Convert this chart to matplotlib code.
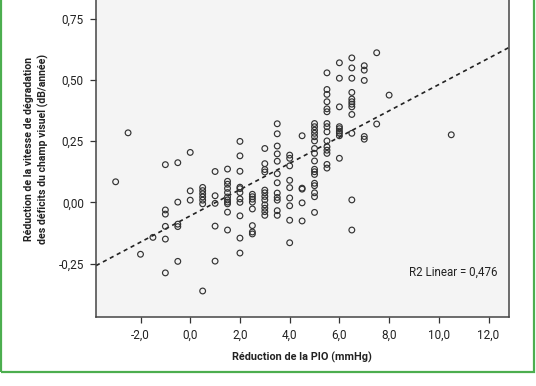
import matplotlib
matplotlib.use("Agg")
import matplotlib.pyplot as plt
from matplotlib.patches import Rectangle
from matplotlib.ticker import FuncFormatter
import numpy as np

plt.rcParams["font.family"] = ["Roboto", "DejaVu Sans"]

# IOP reduction levels (mmHg) and the rate reductions observed at each level (dB/year)
pio_levels = [-3.0, -2.5, -2.0, -1.5, -1.0, -0.5, 0.0, 0.5, 1.0, 1.5, 2.0, 2.5,
              3.0, 3.5, 4.0, 4.5, 5.0, 5.5, 6.0, 6.5, 7.0, 7.5, 8.0, 10.5]
rates_by_level = [
    [0.084],
    [0.284],
    [-0.212],
    [-0.143],
    [0.154, -0.031, -0.048, -0.098, -0.150, -0.288],
    [0.162, 0.001, -0.089, -0.099, -0.241],
    [0.204, 0.047, 0.009],
    [0.061, 0.048, 0.035, 0.022, 0.009, -0.006, -0.362],
    [0.126, 0.027, -0.004, -0.097, -0.240],
    [0.136, 0.086, 0.074, 0.057, 0.040, 0.022, 0.010, 0.001, -0.006, -0.040, -0.113],
    [0.249, 0.190, 0.127, 0.062, 0.056, 0.040, 0.014, 0.000, -0.055, -0.146, -0.207],
    [0.033, 0.023, 0.013, 0.001, -0.027, -0.095, -0.121, -0.129],
    [0.220, 0.158, 0.134, 0.124, 0.050, 0.039, 0.024, 0.010, -0.010, -0.024, -0.038, -0.053],
    [0.321, 0.280, 0.230, 0.198, 0.168, 0.117, 0.080, 0.038, 0.020, 0.009, -0.034, -0.053],
    [0.193, 0.180, 0.149, 0.090, 0.060, 0.018, -0.014, -0.073, -0.165],
    [0.272, 0.058, 0.054, -0.002, -0.076],
    [0.322, 0.309, 0.295, 0.282, 0.268, 0.251, 0.220, 0.200, 0.169, 0.135, 0.125, 0.114,
     0.078, 0.068, 0.039, 0.023, -0.041],
    [0.529, 0.461, 0.441, 0.411, 0.382, 0.370, 0.322, 0.309, 0.288, 0.251, 0.227, 0.213,
     0.200, 0.155, 0.140],
    [0.570, 0.507, 0.390, 0.309, 0.301, 0.291, 0.283, 0.272, 0.180],
    [0.590, 0.549, 0.507, 0.449, 0.422, 0.411, 0.401, 0.390, 0.359, 0.282, 0.010, -0.113],
    [0.558, 0.540, 0.498, 0.269, 0.258],
    [0.611, 0.320],
    [0.438],
    [0.276],
]

x_ticks = [-2.0, 0.0, 2.0, 4.0, 6.0, 8.0, 10.0, 12.0]
y_ticks = [-0.25, 0.0, 0.25, 0.50, 0.75]
r2_label = "R2 Linear = 0,476"

x = np.concatenate([[lvl] * len(r) for lvl, r in zip(pio_levels, rates_by_level)])
y = np.concatenate(rates_by_level)

fig = plt.figure(figsize=(5.36, 3.86), dpi=100)
fig.patch.set_facecolor("white")
fig.patches.append(Rectangle((1 / 536, 1 - 371.5 / 386), 533 / 536, 0.1 + 371.5 / 386,
                             transform=fig.transFigure, fill=False,
                             edgecolor="#4cae4f", linewidth=1.6))

ax = fig.add_axes([96 / 536, 1 - 316.7 / 386, (508.7 - 96) / 536, (316.7 + 18) / 386])
ax.set_facecolor("#f4f4f4")
ax.set_xlim(-3.79, 12.81)
ax.set_ylim(-0.467, 0.9)

ax.scatter(x, y, s=17, facecolors="none", edgecolors="#333333", linewidths=0.85, zorder=3)

slope, intercept = np.polyfit(x, y, 1)
xl = np.array(ax.get_xlim())
ax.plot(xl, slope * xl + intercept, color="#222222", linestyle=(0, (2.5, 2.2)),
        linewidth=1.2, zorder=2)

ax.text(0.972, 0.134, r2_label, transform=ax.transAxes, ha="right", va="center",
        fontsize=8.3, color="#222222")

comma = FuncFormatter(lambda v, p: "{:.1f}".format(v).replace(".", ","))
comma2 = FuncFormatter(lambda v, p: "{:.2f}".format(v).replace(".", ","))
ax.set_xticks(x_ticks)
ax.set_yticks(y_ticks)
ax.xaxis.set_major_formatter(comma)
ax.yaxis.set_major_formatter(comma2)
ax.tick_params(axis="both", direction="out", length=4.3, width=0.9, color="#333333",
               labelsize=8.5, labelcolor="#222222", pad=4.5)

for sp in ax.spines.values():
    sp.set_color("#444444")
    sp.set_linewidth(1.1)

ax.set_xlabel("Réduction de la PIO (mmHg)", fontsize=7.8, fontweight="bold", color="#222222",
              labelpad=7)
ax.set_ylabel("Réduction de la vitesse de dégradation\ndes déficits du champ visuel (dB/année)",
              fontsize=7.6, fontweight="bold", color="#222222", linespacing=1.4)
ax.yaxis.set_label_coords(-0.114, 0.5)

fig.savefig("out.png", dpi=100)
